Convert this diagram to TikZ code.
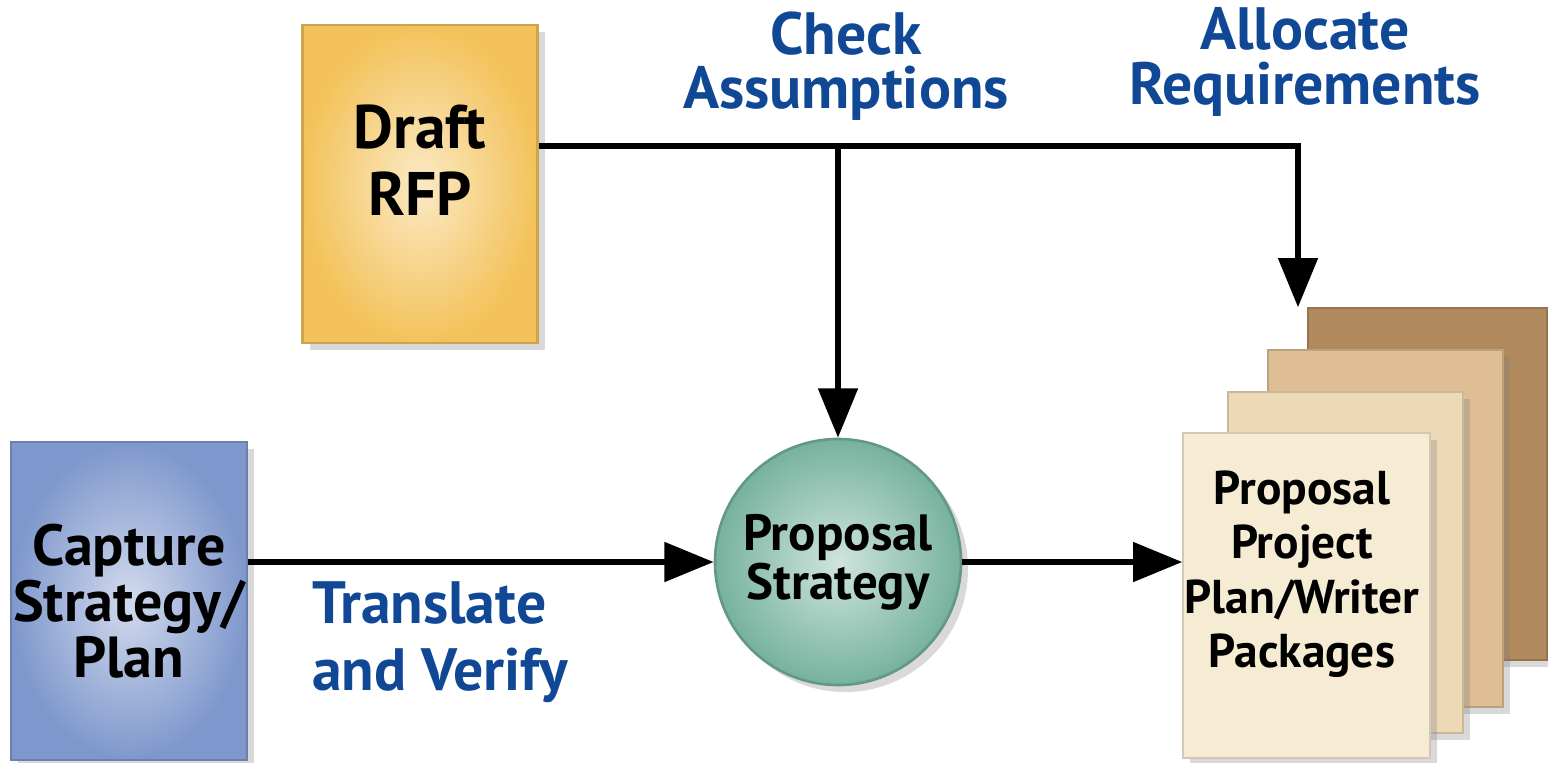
\documentclass[tikz,border=0pt]{standalone}
\usepackage{fontspec}
\setmainfont{PT Sans}
\usetikzlibrary{arrows.meta,shadows,positioning}
\definecolor{labelblue}{RGB}{16,72,150}
\definecolor{rfpyellow}{RGB}{243,194,90}
\definecolor{capblue}{RGB}{126,151,204}
\definecolor{stratgreen}{RGB}{118,178,158}
\definecolor{pageD}{RGB}{176,137,92}
\definecolor{pageC}{RGB}{222,190,146}
\definecolor{pageB}{RGB}{237,217,182}
\definecolor{pageA}{RGB}{246,236,212}
\newcommand\pxl{0.02cm}
\begin{document}
\begin{tikzpicture}[x=\pxl,y=-\pxl,
  lbl/.style 2 args={font=\bfseries\fontsize{#1}{#2}\selectfont,align=center,inner sep=0pt},
  bluelbl/.style 2 args={lbl={#1}{#2},text=labelblue},
  box/.style={draw=#1!85!black,line width=1.5pt,inner color=#1!35!white,outer color=#1,
    drop shadow={opacity=0.3,shadow xshift=4pt,shadow yshift=-4pt}},
  page/.style={line width=0.8pt,drop shadow={opacity=0.3,shadow xshift=4pt,shadow yshift=-4pt}},
  flow/.style={line width=3.4pt,-{Triangle[length=28pt,width=22pt]}}]
 \useasboundingbox (0,0) rectangle (1548,762);
 \node [box=rfpyellow,minimum width=235*\pxl,minimum height=318*\pxl] (rfp) at (420,184) {};
 \node [lbl={35}{38}] at (420,160) {Draft\\RFP};
 \node [box=capblue,minimum width=236*\pxl,minimum height=318*\pxl,lbl={33}{32}] (cap)
  at (129,601) {Capture\\Strategy/\\Plan};
 \node [box=stratgreen,circle,minimum size=246*\pxl,lbl={29}{28}] (strat) at (838,562)
  {Proposal\\Strategy};
 \foreach \n/\cx/\cy/\w/\h/\c in {4/1427.5/484/239/352/pageD,3/1385.5/528.5/235/357/pageC,
   2/1345.5/562.5/235/341/pageB,1/1306.5/595.5/247/325/pageA}
  \node [page,fill=\c,draw=\c!85!black,minimum width=\w*\pxl,minimum height=\h*\pxl] (p\n)
   at (\cx,\cy) {};
 \node [lbl={27}{31}] at (1302,574) {Proposal\\Project\\Plan/Writer\\Packages};
 \node [bluelbl={34}{31}] at (846,66) {Check\\Assumptions};
 \node [bluelbl={34}{31}] at (1305,62) {Allocate\\Requirements};
 \node [bluelbl={34}{38},align=left,anchor=west] at (312,642) {Translate\\and Verify};
 \coordinate (split) at (838,146);
 \coordinate (turn) at (1298,146);
 \draw [flow] (rfp.east |- split) -- (turn) -- (turn |- p4.north);
 \draw [flow] (split) -- (strat.north);
 \draw [flow] (cap.east |- strat.west) -- (strat.west);
 \draw [flow] (strat.east) -- (strat.east -| p1.west);
\end{tikzpicture}
\end{document}
